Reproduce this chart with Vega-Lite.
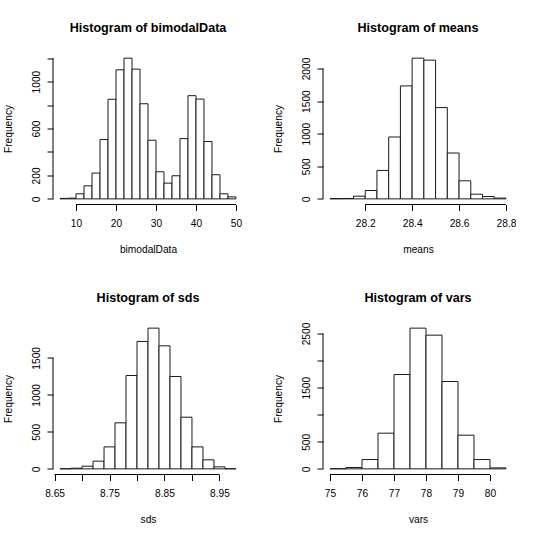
{
  "$schema": "https://vega.github.io/schema/vega-lite/v6.json",
  "autosize": {"type": "pad"},
  "padding": {"left": 3, "top": 21.5, "right": 0, "bottom": 0},
  "background": "white",
  "columns": 2,
  "spacing": {"row": 118, "column": 80},
  "bounds": "flush",
  "datasets": {
    "bimodal": [
      {"lo": 6, "hi": 8, "n": 4}, {"lo": 8, "hi": 10, "n": 6}, {"lo": 10, "hi": 12, "n": 43},
      {"lo": 12, "hi": 14, "n": 111}, {"lo": 14, "hi": 16, "n": 220}, {"lo": 16, "hi": 18, "n": 506},
      {"lo": 18, "hi": 20, "n": 849}, {"lo": 20, "hi": 22, "n": 1100}, {"lo": 22, "hi": 24, "n": 1200},
      {"lo": 24, "hi": 26, "n": 1106}, {"lo": 26, "hi": 28, "n": 811}, {"lo": 28, "hi": 30, "n": 500},
      {"lo": 30, "hi": 32, "n": 231}, {"lo": 32, "hi": 34, "n": 134}, {"lo": 34, "hi": 36, "n": 197},
      {"lo": 36, "hi": 38, "n": 514}, {"lo": 38, "hi": 40, "n": 880}, {"lo": 40, "hi": 42, "n": 851},
      {"lo": 42, "hi": 44, "n": 489}, {"lo": 44, "hi": 46, "n": 206}, {"lo": 46, "hi": 48, "n": 43},
      {"lo": 48, "hi": 50, "n": 17}
    ],
    "means": [
      {"lo": 28.05, "hi": 28.10, "n": 4}, {"lo": 28.10, "hi": 28.15, "n": 6}, {"lo": 28.15, "hi": 28.20, "n": 41},
      {"lo": 28.20, "hi": 28.25, "n": 128}, {"lo": 28.25, "hi": 28.30, "n": 436}, {"lo": 28.30, "hi": 28.35, "n": 949},
      {"lo": 28.35, "hi": 28.40, "n": 1733}, {"lo": 28.40, "hi": 28.45, "n": 2159}, {"lo": 28.45, "hi": 28.50, "n": 2128},
      {"lo": 28.50, "hi": 28.55, "n": 1400}, {"lo": 28.55, "hi": 28.60, "n": 703}, {"lo": 28.60, "hi": 28.65, "n": 277},
      {"lo": 28.65, "hi": 28.70, "n": 72}, {"lo": 28.70, "hi": 28.75, "n": 36}, {"lo": 28.75, "hi": 28.80, "n": 12}
    ],
    "sds": [
      {"lo": 8.66, "hi": 8.68, "n": 2}, {"lo": 8.68, "hi": 8.70, "n": 9}, {"lo": 8.70, "hi": 8.72, "n": 36},
      {"lo": 8.72, "hi": 8.74, "n": 104}, {"lo": 8.74, "hi": 8.76, "n": 297}, {"lo": 8.76, "hi": 8.78, "n": 622},
      {"lo": 8.78, "hi": 8.80, "n": 1261}, {"lo": 8.80, "hi": 8.82, "n": 1721}, {"lo": 8.82, "hi": 8.84, "n": 1901},
      {"lo": 8.84, "hi": 8.86, "n": 1662}, {"lo": 8.86, "hi": 8.88, "n": 1248}, {"lo": 8.88, "hi": 8.90, "n": 698},
      {"lo": 8.90, "hi": 8.92, "n": 297}, {"lo": 8.92, "hi": 8.94, "n": 122}, {"lo": 8.94, "hi": 8.96, "n": 27},
      {"lo": 8.96, "hi": 8.98, "n": 2}
    ],
    "vars": [
      {"lo": 75, "hi": 75.5, "n": 3}, {"lo": 75.5, "hi": 76, "n": 25}, {"lo": 76, "hi": 76.5, "n": 172},
      {"lo": 76.5, "hi": 77, "n": 659}, {"lo": 77, "hi": 77.5, "n": 1743}, {"lo": 77.5, "hi": 78, "n": 2599},
      {"lo": 78, "hi": 78.5, "n": 2469}, {"lo": 78.5, "hi": 79, "n": 1613}, {"lo": 79, "hi": 79.5, "n": 622},
      {"lo": 79.5, "hi": 80, "n": 172}, {"lo": 80, "hi": 80.5, "n": 18}
    ]
  },
  "concat": [
    {
      "width": 190, "height": 152,
      "title": "Histogram of bimodalData",
      "layer": [
        {
          "data": {"name": "bimodal"},
          "mark": {"type": "bar", "fill": "white", "stroke": "#1a1a1a", "strokeWidth": 1},
          "encoding": {
            "x": {"field": "lo", "type": "quantitative", "scale": {"domain": [4.24, 51.76], "nice": false, "zero": false},
                  "axis": {"title": "bimodalData", "values": [10, 20, 30, 40, 50], "tickCount": 50, "format": "d", "labelOverlap": false}},
            "x2": {"field": "hi"},
            "y": {"field": "n", "type": "quantitative", "scale": {"domain": [-48, 1248], "nice": false, "zero": false},
                  "axis": {"title": "Frequency", "values": [0, 200, 400, 600, 800, 1000, 1200], "tickCount": 50, "format": "d", "labelOverlap": false,
                           "labelExpr": "indexof([0, 200, 600, 1000], datum.value) >= 0 ? datum.label : ''"}},
            "y2": {"datum": 0}
          }
        },
        {
          "data": {"values": [{}]},
          "mark": {"type": "rule", "color": "#000", "strokeWidth": 1},
          "encoding": {"x": {"datum": 10, "type": "quantitative"}, "x2": {"datum": 50}, "y": {"datum": -48, "type": "quantitative"}}
        },
        {
          "data": {"values": [{}]},
          "mark": {"type": "rule", "color": "#000", "strokeWidth": 1},
          "encoding": {"y": {"datum": 0, "type": "quantitative"}, "y2": {"datum": 1200}, "x": {"datum": 4.24, "type": "quantitative"}}
        }
      ]
    },
    {
      "width": 190, "height": 152,
      "title": "Histogram of means",
      "layer": [
        {
          "data": {"name": "means"},
          "mark": {"type": "bar", "fill": "white", "stroke": "#1a1a1a", "strokeWidth": 1},
          "encoding": {
            "x": {"field": "lo", "type": "quantitative", "scale": {"domain": [28.02, 28.83], "nice": false, "zero": false},
                  "axis": {"title": "means", "values": [28.2, 28.4, 28.6, 28.8], "tickCount": 50, "format": ".1f", "labelOverlap": false}},
            "x2": {"field": "hi"},
            "y": {"field": "n", "type": "quantitative", "scale": {"domain": [-86.4, 2245.4], "nice": false, "zero": false},
                  "axis": {"title": "Frequency", "values": [0, 500, 1000, 1500, 2000], "tickCount": 50, "format": "d", "labelOverlap": false}},
            "y2": {"datum": 0}
          }
        },
        {
          "data": {"values": [{}]},
          "mark": {"type": "rule", "color": "#000", "strokeWidth": 1},
          "encoding": {"x": {"datum": 28.2, "type": "quantitative"}, "x2": {"datum": 28.8}, "y": {"datum": -86.4, "type": "quantitative"}}
        },
        {
          "data": {"values": [{}]},
          "mark": {"type": "rule", "color": "#000", "strokeWidth": 1},
          "encoding": {"y": {"datum": 0, "type": "quantitative"}, "y2": {"datum": 2000}, "x": {"datum": 28.02, "type": "quantitative"}}
        }
      ]
    },
    {
      "width": 190, "height": 152,
      "title": "Histogram of sds",
      "layer": [
        {
          "data": {"name": "sds"},
          "mark": {"type": "bar", "fill": "white", "stroke": "#1a1a1a", "strokeWidth": 1},
          "encoding": {
            "x": {"field": "lo", "type": "quantitative", "scale": {"domain": [8.6472, 8.9928], "nice": false, "zero": false},
                  "axis": {"title": "sds", "values": [8.65, 8.7, 8.75, 8.8, 8.85, 8.9, 8.95], "tickCount": 50, "labelOverlap": false,
                           "labelExpr": "indexof(['8.65', '8.75', '8.85', '8.95'], format(datum.value, '.2f')) >= 0 ? format(datum.value, '.2f') : ''"}},
            "x2": {"field": "hi"},
            "y": {"field": "n", "type": "quantitative", "scale": {"domain": [-76, 1977], "nice": false, "zero": false},
                  "axis": {"title": "Frequency", "values": [0, 500, 1000, 1500], "tickCount": 50, "format": "d", "labelOverlap": false}},
            "y2": {"datum": 0}
          }
        },
        {
          "data": {"values": [{}]},
          "mark": {"type": "rule", "color": "#000", "strokeWidth": 1},
          "encoding": {"x": {"datum": 8.65, "type": "quantitative"}, "x2": {"datum": 8.95}, "y": {"datum": -76, "type": "quantitative"}}
        },
        {
          "data": {"values": [{}]},
          "mark": {"type": "rule", "color": "#000", "strokeWidth": 1},
          "encoding": {"y": {"datum": 0, "type": "quantitative"}, "y2": {"datum": 1500}, "x": {"datum": 8.6472, "type": "quantitative"}}
        }
      ]
    },
    {
      "width": 190, "height": 152,
      "title": "Histogram of vars",
      "layer": [
        {
          "data": {"name": "vars"},
          "mark": {"type": "bar", "fill": "white", "stroke": "#1a1a1a", "strokeWidth": 1},
          "encoding": {
            "x": {"field": "lo", "type": "quantitative", "scale": {"domain": [74.78, 80.72], "nice": false, "zero": false},
                  "axis": {"title": "vars", "values": [75, 76, 77, 78, 79, 80], "tickCount": 50, "format": "d", "labelOverlap": false}},
            "x2": {"field": "hi"},
            "y": {"field": "n", "type": "quantitative", "scale": {"domain": [-104, 2703], "nice": false, "zero": false},
                  "axis": {"title": "Frequency", "values": [0, 500, 1000, 1500, 2000, 2500], "tickCount": 50, "format": "d", "labelOverlap": false,
                           "labelExpr": "indexof([0, 500, 1500, 2500], datum.value) >= 0 ? datum.label : ''"}},
            "y2": {"datum": 0}
          }
        },
        {
          "data": {"values": [{}]},
          "mark": {"type": "rule", "color": "#000", "strokeWidth": 1},
          "encoding": {"x": {"datum": 75, "type": "quantitative"}, "x2": {"datum": 80}, "y": {"datum": -104, "type": "quantitative"}}
        },
        {
          "data": {"values": [{}]},
          "mark": {"type": "rule", "color": "#000", "strokeWidth": 1},
          "encoding": {"y": {"datum": 0, "type": "quantitative"}, "y2": {"datum": 2500}, "x": {"datum": 74.78, "type": "quantitative"}}
        }
      ]
    }
  ],
  "config": {
    "view": {"stroke": null},
    "axis": {
      "grid": false, "domain": false,
      "tickColor": "#000", "tickSize": 6, "tickWidth": 1,
      "labelFont": "Liberation Sans", "labelFontSize": 10.2, "labelColor": "#000",
      "titleFont": "Liberation Sans", "titleFontSize": 10.2, "titleFontWeight": "normal", "titleColor": "#000",
      "labelOverlap": false, "labelFlush": false, "labelBound": false
    },
    "axisX": {
      "labelAngle": 0, "labelAlign": "center", "labelBaseline": "alphabetic", "labelPadding": 15.5,
      "titleAngle": 0, "titleAlign": "center", "titleBaseline": "alphabetic", "titleX": 95, "titleY": 47.5
    },
    "axisY": {
      "labelAngle": -90, "labelAlign": "center", "labelBaseline": "alphabetic", "labelPadding": 7.7,
      "titleAngle": -90, "titleAlign": "center", "titleBaseline": "alphabetic", "titleX": -41.4, "titleY": 76
    },
    "title": {
      "font": "Liberation Sans", "fontSize": 12.6, "fontWeight": "bold", "color": "#000",
      "anchor": "middle", "frame": "group", "baseline": "alphabetic", "offset": 17.7
    }
  }
}
